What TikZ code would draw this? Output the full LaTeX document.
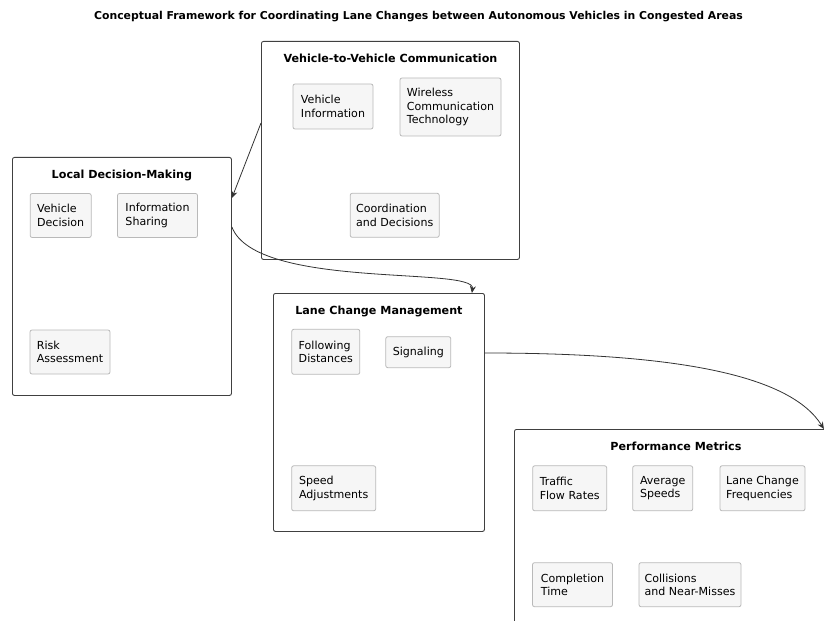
\documentclass[tikz,border=0pt]{standalone}
\usepackage{fontspec}
\setmainfont{DejaVu Sans}
\usetikzlibrary{arrows.meta}
\usetikzlibrary{positioning}

\begin{document}
\begin{tikzpicture}[x=1bp, y=-1bp,
        group/.style={draw=black!75, rounded corners=2bp, line width=0.9bp, anchor=north west, inner sep=0pt},
        heading/.style={font=\bfseries\fontsize{11.2}{13}\selectfont, anchor=base, inner sep=0pt},
        item/.style={draw=gray!55, fill=gray!7, rounded corners=2bp, line width=0.8bp, align=left, inner sep=0pt, font=\fontsize{11.1}{13.6}\selectfont},
        link/.style={draw=black!80, line width=0.8bp, -{Stealth[length=7bp, width=6bp]}}
    ]
        \useasboundingbox (0,0) rectangle (824,621);
        \clip (0,0) rectangle (824,621);

        % Title
        \node[font=\bfseries\fontsize{10.9}{12}\selectfont] (title) at (418.5,17) {Conceptual Framework for Coordinating Lane Changes between Autonomous Vehicles in Congested Areas};

        % Groups
        \node[group, minimum width=258bp, minimum height=218bp] (v2v) at (261,41) {};
        \node[heading, below=12.6bp of v2v.north] {Vehicle-to-Vehicle Communication};

        \node[group, minimum width=219bp, minimum height=238bp] (ldm) at (12,157) {};
        \node[heading, below=12.6bp of ldm.north] {Local Decision-Making};

        \node[group, minimum width=211bp, minimum height=238bp] (lcm) at (273,293) {};
        \node[heading, below=12.6bp of lcm.north] {Lane Change Management};

        \node[group, minimum width=323bp, minimum height=210bp] (pm) at (514,429) {};
        \node[heading, below=12.6bp of pm.north] {Performance Metrics};

        % Items inside the groups
        \node[item, minimum width=80bp, minimum height=45bp] (vinfo) at (333,106.5) {Vehicle\\Information};
        \node[item, minimum width=101bp, minimum height=58bp] (wireless) at (450.5,107) {Wireless\\Communication\\Technology};
        \node[item, minimum width=89bp, minimum height=44bp] (coord) at (394.7,215.3) {Coordination\\and Decisions};

        \node[item, minimum width=61bp, minimum height=44bp] (vdec) at (60.7,215.5) {Vehicle\\Decision};
        \node[item, minimum width=80bp, minimum height=44bp] (share) at (157.5,215.5) {Information\\Sharing};
        \node[item, minimum width=80bp, minimum height=44bp] (risk) at (70,352) {Risk\\Assessment};

        \node[item, minimum width=68bp, minimum height=45bp] (follow) at (325.8,351.8) {Following\\Distances};
        \node[item, minimum width=65bp, minimum height=31bp] (signal) at (418.3,352.2) {Signaling};
        \node[item, minimum width=84bp, minimum height=45bp] (speed) at (333.7,488.3) {Speed\\Adjustments};

        \node[item, minimum width=74bp, minimum height=45bp] (flow) at (569.7,488.3) {Traffic\\Flow Rates};
        \node[item, minimum width=60bp, minimum height=45bp] (avg) at (662.7,488.3) {Average\\Speeds};
        \node[item, minimum width=85bp, minimum height=45bp] (freq) at (762.5,488.3) {Lane Change\\Frequencies};
        \node[item, minimum width=80bp, minimum height=44bp] (ctime) at (572.5,584.7) {Completion\\Time};
        \node[item, minimum width=102bp, minimum height=44bp] (coll) at (690,584.7) {Collisions\\and Near-Misses};

        % Connections between the groups
        \draw[link] ([yshift=-82bp]v2v.north west) -- ([yshift=-41bp]ldm.north east);
        \draw[link] ([yshift=-70bp]ldm.north east) .. controls +(24,63) and +(4,-27) .. ([xshift=-13bp]lcm.north east);
        \draw[link] ([yshift=-60bp]lcm.north east) .. controls +(196,0) and +(-33,-53) .. ([xshift=-14bp]pm.north east);
\end{tikzpicture}
\end{document}
